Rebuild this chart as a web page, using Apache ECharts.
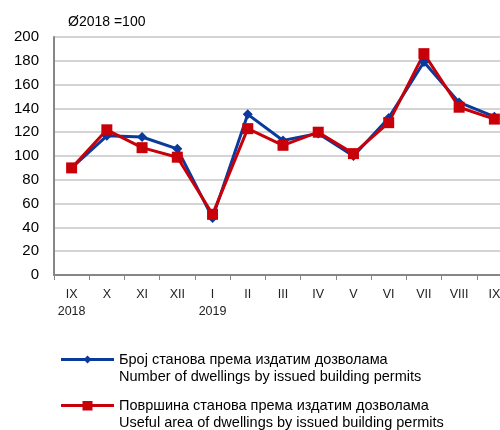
<!DOCTYPE html>
<html><head><meta charset="utf-8">
<script src="https://cdn.jsdelivr.net/npm/echarts@6/dist/echarts.min.js"></script>
<style>html,body{margin:0;padding:0;background:#fff;overflow:hidden;width:500px;height:430px}#c{width:512px;height:430px}</style>
</head><body><div id="c"></div>
<script>
var categories = ['IX\n2018','X','XI','XII','I\n2019','II','III','IV','V','VI','VII','VIII','IX'];
var dwellings = [90,117,116,106,48,135,113,119,100,132,179,145,133];
var area = [90,122,107,99,51,123,109,120,102,128,186,141,131];
var nameDwellings = 'Број станова према издатим дозволама\nNumber of dwellings by issued building permits';
var nameArea = 'Површина станова према издатим дозволама\nUseful area of dwellings by issued building permits';
var yTitle = 'Ø2018 =100';

var bbox = ' M0,0 L0.01,0 L0,0.01 Z M53,34 L52.99,34 L53,33.99 Z';
var iconBlue = 'path://M0,7 L53,7 L53,10 L0,10 Z M26.5,4.5 L30.5,8.5 L26.5,12.5 L22.5,8.5 Z' + bbox;
var iconRed = 'path://M0,7 L53,7 L53,10 L0,10 Z M21.5,4 L31.5,4 L31.5,13.5 L21.5,13.5 Z' + bbox;
var legendText = {fontSize:14.5,color:'#000',lineHeight:17};
var chart = echarts.init(document.getElementById('c'), null, {renderer:'canvas'});
chart.setOption({
  animation:false,
  textStyle:{fontFamily:'Liberation Sans, Arial, sans-serif'},
  title:{text:yTitle,left:63,top:10,textStyle:{fontSize:14,fontWeight:'normal',color:'#000'}},
  grid:{left:54,top:37,right:0,bottom:155,containLabel:false},
  legend:[
    {orient:'vertical',left:61,top:351,padding:0,itemWidth:53,itemHeight:34,itemGap:5,
     icon:iconBlue,textStyle:legendText,data:[nameDwellings]},
    {orient:'vertical',left:61,top:397,padding:0,itemWidth:53,itemHeight:34,itemGap:5,
     icon:iconRed,textStyle:legendText,data:[nameArea]}
  ],
  xAxis:{type:'category',data:categories,boundaryGap:true,
    axisLine:{lineStyle:{color:'#868686',width:2}},
    axisTick:{show:true,length:5,interval:0,lineStyle:{color:'#868686',width:1}},
    axisLabel:{fontSize:12.5,color:'#222',margin:11,lineHeight:17,interval:0}
  },
  yAxis:{type:'value',min:0,max:200,interval:20,
    axisLine:{show:true,lineStyle:{color:'#868686',width:2}},
    axisTick:{show:false},
    axisLabel:{fontSize:15,color:'#000',margin:15},
    splitLine:{lineStyle:{color:'#d4d4d4',width:2}}
  },
  series:[
    {name:nameDwellings,type:'line',data:dwellings,symbol:'diamond',symbolSize:10,
     lineStyle:{color:'#0a3a9c',width:3},itemStyle:{color:'#0a3a9c'}},
    {name:nameArea,type:'line',data:area,symbol:'rect',symbolSize:11,
     lineStyle:{color:'#c8000a',width:3},itemStyle:{color:'#c8000a'}}
  ]
});
</script></body></html>
